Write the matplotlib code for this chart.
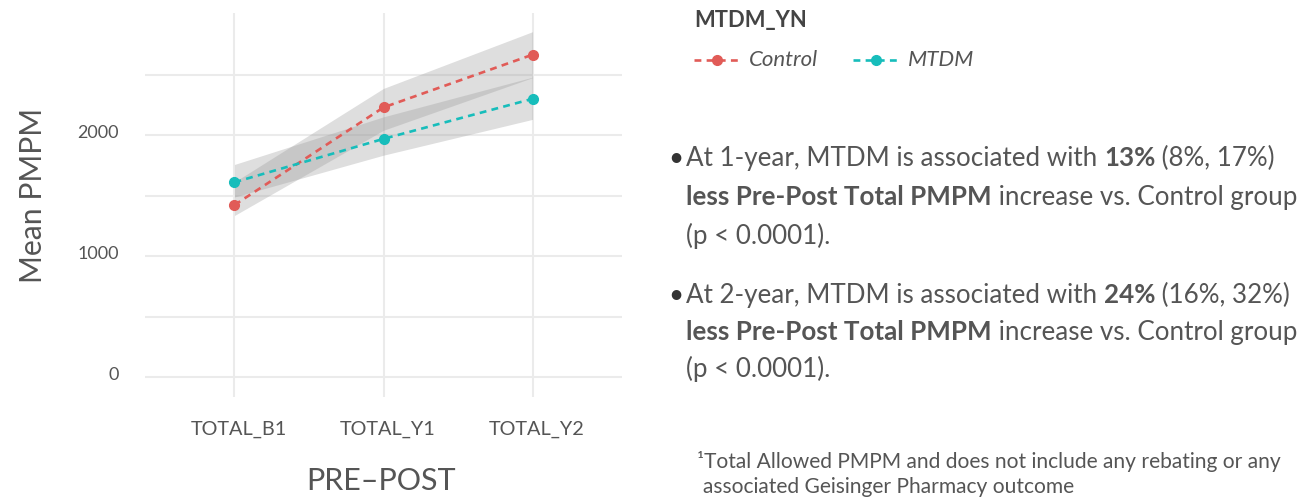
import matplotlib
matplotlib.use("Agg")
import matplotlib.pyplot as plt
from matplotlib.lines import Line2D
from matplotlib import font_manager
from matplotlib.transforms import ScaledTranslation

# ---------------- data ----------------
categories = ["TOTAL_B1", "TOTAL_Y1", "TOTAL_Y2"]
control_mean = [1425, 2232, 2668]
mtdm_mean = [1613, 1972, 2303]
control_lo = [1338, 2043, 2478]
control_hi = [1615, 2389, 2858]
mtdm_lo = [1491, 1837, 2133]
mtdm_hi = [1760, 2154, 2482]
y_major = [0, 1000, 2000]
y_minor = [500, 1500, 2500]
series_names = ["Control", "MTDM"]

RED = "#E15B57"
TEAL = "#17BDBB"
TXT = "#555555"
GRID = "#EBEBEB"
DASH = (0, (2.6, 2.0))

names = {f.name for f in font_manager.fontManager.ttflist}
MAIN = "Lato" if "Lato" in names else "DejaVu Sans"
TICKF = "Liberation Sans Narrow" if "Liberation Sans Narrow" in names else MAIN
plt.rcParams["font.family"] = [MAIN, "DejaVu Sans"]

W, H = 1300, 499
fig = plt.figure(figsize=(W / 100, H / 100), dpi=100)

def fx(px):
    return px / W

def fy(py):
    return 1 - py / H

left, right, top, bottom = 145, 622, 12.7, 396.7
ax = fig.add_axes([fx(left), fy(bottom), fx(right - left), (bottom - top) / H])
x = list(range(1, len(categories) + 1))

ax.set_xlim(0.4, 3.6)
ax.set_ylim(-160, 3015)
for s in ax.spines.values():
    s.set_visible(False)
for v in y_major + y_minor:
    ax.axhline(v, color=GRID, lw=1.5, zorder=0)
for v in x:
    ax.axvline(v, color=GRID, lw=1.5, zorder=0)

ax.fill_between(x, control_lo, control_hi, color="#999999", alpha=0.32, lw=0, zorder=1)
ax.fill_between(x, mtdm_lo, mtdm_hi, color="#999999", alpha=0.32, lw=0, zorder=1)

ax.plot(x, control_mean, color=RED, ls=DASH, lw=1.9, marker="o", ms=7, zorder=3)
ax.plot(x, mtdm_mean, color=TEAL, ls=DASH, lw=1.9, marker="o", ms=7, zorder=3)

ax.set_xticks(x)
ax.set_xticklabels(categories, fontsize=14.3, color=TXT, family=[TICKF, "DejaVu Sans"])
ax.set_yticks(y_major)
ax.set_yticklabels([str(v) for v in y_major], fontsize=13, color=TXT, family=[MAIN, "DejaVu Sans"])
ax.tick_params(axis="x", length=0, pad=17)
ax.tick_params(axis="y", length=0, pad=19)
up = ScaledTranslation(0, 4 / 100, fig.dpi_scale_trans)
for lab in ax.get_yticklabels():
    lab.set_transform(lab.get_transform() + up)
right_shift = ScaledTranslation(4 / 100, 0, fig.dpi_scale_trans)
for lab in ax.get_xticklabels():
    lab.set_transform(lab.get_transform() + right_shift)

fig.text(fx(33), fy(195), "Mean PMPM", rotation=90, fontsize=21.7, color=TXT,
         ha="center", va="center")
fig.text(fx(381), fy(481), "PRE\u2013POST", fontsize=22, color=TXT,
         ha="center", va="center")

# ---------------- legend ----------------
fig.text(fx(694), fy(20), "MTDM_YN", fontsize=15.8, fontweight="bold", color="#444444",
         ha="left", va="center")
leg_items = [(series_names[0], RED, 694), (series_names[1], TEAL, 853)]
for name, col, x0 in leg_items:
    fig.add_artist(Line2D([fx(x0), fx(x0 + 46)], [fy(60), fy(60)], transform=fig.transFigure,
                          color=col, ls=DASH, lw=1.9))
    fig.add_artist(Line2D([fx(x0 + 23)], [fy(60)], transform=fig.transFigure,
                          color=col, marker="o", ms=7, ls="none"))
    fig.text(fx(x0 + 55), fy(60), name, fontsize=16, style="italic", color=TXT,
             ha="left", va="center")

# ---------------- rich text ----------------
fig.canvas.draw()
renderer = fig.canvas.get_renderer()

def rich_line(x_px, y_px, segments, size):
    cur = x_px
    for text, weight in segments:
        t = fig.text(fx(cur), fy(y_px), text, fontsize=size, fontweight=weight,
                     color=TXT, ha="left", va="baseline")
        bb = t.get_window_extent(renderer=renderer)
        cur += bb.width

FS = 18.7
bullets = [
    ("1", "13%", "(8%, 17%)", 166, 39),
    ("2", "24%", "(16%, 32%)", 303, 37),
]
for yr, pct, ci, yb, gap in bullets:
    fig.text(fx(668), fy(yb), "\u2022", fontsize=FS, color="#333333", ha="left", va="baseline")
    rich_line(686, yb, [("At " + yr + "-year, MTDM is associated with ", "normal"),
                        (pct, "bold"), (" " + ci, "normal")], FS)
    rich_line(686, yb + gap, [("less Pre-Post Total PMPM", "bold"),
                              (" increase vs. Control group", "normal")], FS)
    rich_line(686, yb + 2 * gap, [("(p < 0.0001).", "normal")], FS)

rich_line(697, 468, [("\u00b9", "normal"), ("Total Allowed PMPM and does not include any rebating or any", "normal")], 15.1)
rich_line(703, 493, [("associated Geisinger Pharmacy outcome", "normal")], 15.1)

fig.savefig("out.png", dpi=100, facecolor="white")
